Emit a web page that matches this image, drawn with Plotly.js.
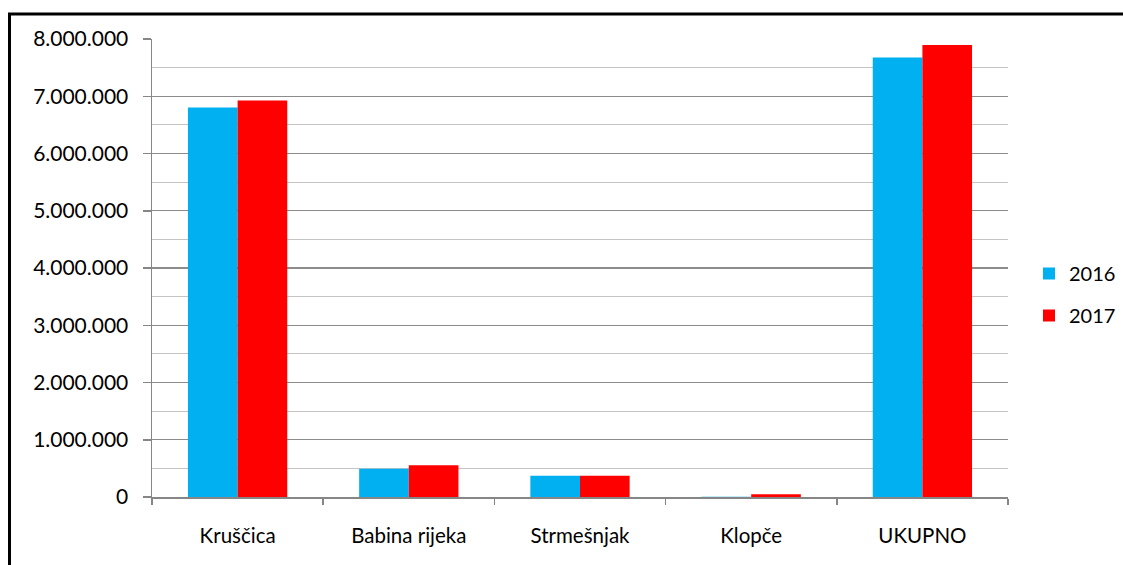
<!DOCTYPE html>
<html>
<head>
<meta charset="utf-8">
<script src="https://cdn.plot.ly/plotly-3.0.1.min.js"></script>
<style>
html,body{margin:0;padding:0;background:#fff;overflow:hidden;}
#chart{width:1123px;height:565px;}
</style>
</head>
<body>
<div id="chart"></div>
<script>
const categories = ["Kruščica", "Babina rijeka", "Strmešnjak", "Klopče", "UKUPNO"];
const seriesNames = ["2016", "2017"];
const values2016 = [6805000, 495000, 373000, 6000, 7675000];
const values2017 = [6926000, 554000, 373000, 48000, 7895000];
const yTickValues = [0, 1000000, 2000000, 3000000, 4000000, 5000000, 6000000, 7000000, 8000000];

const fam = "Lato, 'Noto Sans', sans-serif";

const traces = [
  {type: "bar", name: seriesNames[0], x: categories, y: values2016,
   marker: {color: "#00B0F0"}, legendgroup: "a"},
  {type: "bar", name: seriesNames[1], x: categories, y: values2017,
   marker: {color: "#FF0000"}, legendgroup: "b"}
];

const L = 152, R = 1008, T = 39, B = 497, W = 1123, H = 565;
const pw = R - L, ph = B - T;

const layout = {
  width: W, height: H,
  margin: {l: L, r: W - R, t: T, b: H - B, pad: 0, autoexpand: false},
  paper_bgcolor: "#fff", plot_bgcolor: "#fff",
  separators: ",.",
  font: {family: fam, size: 20, color: "#000"},
  barmode: "group", bargap: 0.42, bargroupgap: 0,
  showlegend: true,
  legend: {x: (1029 - L) / pw, xanchor: "left", y: (B - 254) / ph, yanchor: "top",
           font: {family: fam, size: 20, color: "#000"},
           tracegroupgap: 13, bgcolor: "rgba(0,0,0,0)"},
  xaxis: {
    type: "category",
    showline: true, linecolor: "#868686", linewidth: 1.5,
    ticks: "outside", tickson: "boundaries", ticklen: 6, tickcolor: "#868686", tickwidth: 1.5,
    showgrid: false, zeroline: false,
    tickfont: {family: fam, size: 20.5, color: "#000"},
    ticklabelstandoff: 20,
    automargin: false
  },
  yaxis: {
    range: [0, 8000000], fixedrange: true,
    tickvals: yTickValues, tickformat: ",d",
    showline: true, linecolor: "#868686", linewidth: 1.5,
    ticks: "outside", ticklen: 8, tickcolor: "#868686", tickwidth: 1.5,
    showgrid: true, gridcolor: "#8c8c8c", gridwidth: 1.2,
    zeroline: false,
    minor: {dtick: 500000, showgrid: true, gridcolor: "#c4c4c4", gridwidth: 1.2, ticks: ""},
    tickfont: {family: fam, size: 21, color: "#000"},
    ticklabelstandoff: 10,
    automargin: false
  },
  shapes: [{
    type: "rect", xref: "paper", yref: "paper",
    x0: (9.5 - L) / pw, x1: (W + 20 - L) / pw,
    y0: (B - (H + 20)) / ph, y1: (B - 14) / ph,
    line: {color: "#000", width: 3}, fillcolor: "rgba(0,0,0,0)", layer: "above"
  }]
};

Plotly.newPlot("chart", traces, layout, {staticPlot: true, displayModeBar: false});
</script>
</body>
</html>
